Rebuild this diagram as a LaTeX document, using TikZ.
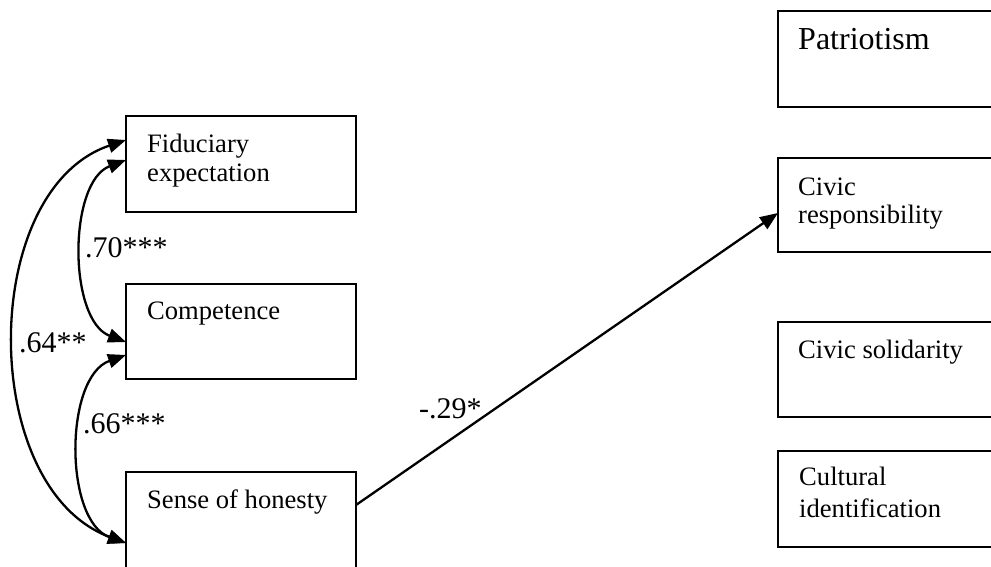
\documentclass[tikz,border=0pt]{standalone}
\usepackage{fontspec}
\setmainfont{Liberation Serif}
\usetikzlibrary{arrows.meta}

\tikzset{
  varbox/.style={draw, line width=2.2pt, rectangle, anchor=north west, inner sep=0pt, outer sep=0pt},
  boxtext/.style={anchor=base west, inner sep=0pt, align=left,
    font=\fontsize{26.6pt}{29pt}\selectfont},
  coef/.style={anchor=base west, inner sep=0pt, font=\fontsize{30pt}{32pt}\selectfont},
  effect/.style={line width=2.3pt, -{Triangle[length=18pt,width=14pt]}},
  corr/.style={line width=2.3pt, {Triangle[length=18pt,width=14pt]}-{Triangle[length=18pt,width=14pt]}}
}

\begin{document}
\begin{tikzpicture}[x=1pt, y=-1pt]
\useasboundingbox (0,0) rectangle (991,567);

% exogenous trust dimensions (left column)
\node[varbox, minimum width=230pt, minimum height=96pt] (fid) at (126,116) {};
\node[varbox, minimum width=230pt, minimum height=95pt] (comp) at (126,284) {};
\node[varbox, minimum width=230pt, minimum height=130pt] (hon) at (126,472) {};

% labels are placed by the baseline of their last line
\node[boxtext] (fidtxt) at (147,182) {Fiduciary\\expectation};
\node[boxtext] (comptxt) at (147,319) {Competence};
\node[boxtext] (hontxt) at (147,508) {Sense of honesty};

% outcome variables (right column)
\node[varbox, minimum width=240pt, minimum height=96pt] (pat) at (778,11) {};
\node[varbox, minimum width=240pt, minimum height=94pt] (resp) at (778,158) {};
\node[varbox, minimum width=240pt, minimum height=95pt] (sol) at (778,322) {};
\node[varbox, minimum width=240pt, minimum height=96pt] (cult) at (778,451) {};

\node[boxtext, font=\fontsize{32pt}{34pt}\selectfont] (pattxt) at (798,50) {Patriotism};
\node[boxtext, font=\fontsize{26.6pt}{28pt}\selectfont] (resptxt) at (798,223) {Civic\\responsibility};
\node[boxtext] (soltxt) at (798,358) {Civic solidarity};
\node[boxtext, font=\fontsize{26.6pt}{32pt}\selectfont] (culttxt) at (799,517) {Cultural\\identification};

% attachment points on the box edges
\coordinate (fidA) at ([yshift=-24pt]fid.north west);
\coordinate (fidB) at ([yshift=-44pt]fid.north west);
\coordinate (compA) at ([yshift=-58pt]comp.north west);
\coordinate (compB) at ([yshift=-71pt]comp.north west);
\coordinate (honA) at ([yshift=-71pt]hon.north west);
\coordinate (honOut) at ([yshift=-33pt]hon.north east);
\coordinate (respIn) at ([yshift=-55pt]resp.north west);

% correlations
\draw[corr] (fidB) .. controls +(-58,22) and +(-58,-22) .. (compA);
\draw[corr] (compB) .. controls +(-62,22) and +(-62,-22) .. (honA);
\draw[corr] (fidA) .. controls +(-148,50) and +(-148,-55) .. (honA);

% structural path
\draw[effect] (honOut) -- (respIn);

% coefficients
\node[coef] (r1) at (85,257) {.70***};
\node[coef] (r2) at (19,352) {.64**};
\node[coef] (r3) at (83,433) {.66***};
\node[coef] (b1) at (419,418) {-.29*};
\end{tikzpicture}
\end{document}
